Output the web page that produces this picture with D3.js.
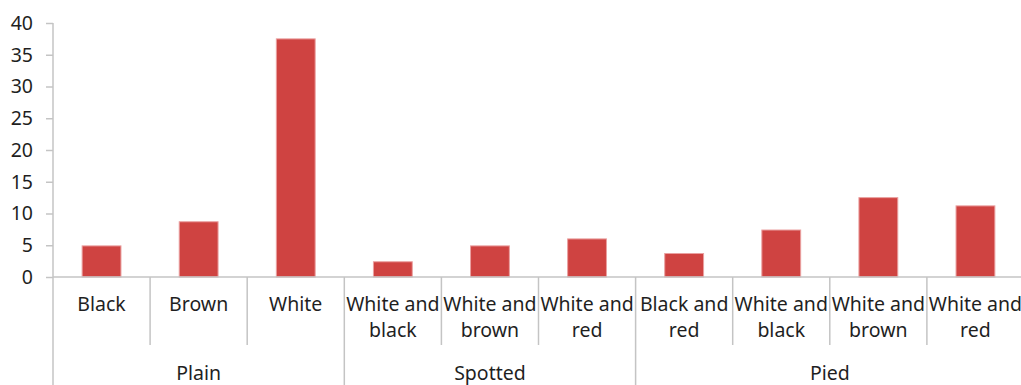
<!DOCTYPE html>
<html>
<head>
<meta charset="utf-8">
<script src="https://cdn.jsdelivr.net/npm/d3@7"></script>
<style>
  body { margin: 0; background: #fff; }
  svg { display: block; }
  text { font-family: "Noto Sans", "Open Sans", sans-serif; fill: #1f1f1f; }
</style>
</head>
<body>
<div id="chart"></div>
<script>
// data
var groups = ['Plain', 'Spotted', 'Pied'];
var categories = [
    ['Black'], ['Brown'], ['White'],
    ['White and', 'black'], ['White and', 'brown'], ['White and', 'red'],
    ['Black and', 'red'], ['White and', 'black'], ['White and', 'brown'], ['White and', 'red']
];
var categoryGroup = [0, 0, 0, 1, 1, 1, 2, 2, 2, 2];
var values = [4.9, 8.7, 37.5, 2.4, 4.9, 6.0, 3.7, 7.4, 12.5, 11.2];
var yTicks = [0, 5, 10, 15, 20, 25, 30, 35, 40];

(function(){
    var width = 1021, height = 385;
    var plotLeft = 53, plotRight = 1024, plotTop = 23, plotBottom = 277;
    var fontSize = '19.5px';

    var svg = d3.select('#chart')
        .append('svg')
        .attr('width', width)
        .attr('height', height);

    var x = d3.scaleBand()
        .domain(d3.range(values.length))
        .range([plotLeft, plotRight])
        .paddingInner(0.6)
        .paddingOuter(0.3);

    var y = d3.scaleLinear()
        .domain([0, 40])
        .range([plotBottom, plotTop]);

    var step = x.step();
    var edge = function(i){ return plotLeft + i * step; };

    // y axis
    var yAxis = svg.append('g')
        .attr('transform', 'translate(' + plotLeft + ',0)')
        .call(d3.axisLeft(y).tickValues(yTicks).tickSize(7).tickPadding(13));
    yAxis.select('.domain').attr('stroke', '#c4c4c4').attr('stroke-width', 1.5)
        .attr('d', 'M0,' + plotTop + 'V' + plotBottom);
    yAxis.selectAll('.tick line').attr('stroke', '#c4c4c4').attr('stroke-width', 1.5);
    yAxis.selectAll('.tick text')
        .style('font-size', fontSize)
        .style('font-family', '"Noto Sans", sans-serif')
        .attr('fill', '#1f1f1f');

    // bars
    svg.selectAll('rect.bar')
        .data(values)
        .enter()
        .append('rect')
        .attr('class', 'bar')
        .attr('x', function(d, i){ return x(i); })
        .attr('y', function(d){ return y(d); })
        .attr('width', x.bandwidth())
        .attr('height', function(d){ return y(0) - y(d); })
        .attr('fill', '#cf4341')
        .attr('stroke', '#eaa0a0')
        .attr('stroke-width', 1);

    // x axis baseline
    svg.append('line')
        .attr('x1', plotLeft).attr('x2', width)
        .attr('y1', y(0)).attr('y2', y(0))
        .attr('stroke', '#c4c4c4').attr('stroke-width', 1.5);

    // separators between categories
    svg.selectAll('line.sep')
        .data(d3.range(values.length + 1))
        .enter()
        .append('line')
        .attr('class', 'sep')
        .attr('x1', function(i){ return edge(i); })
        .attr('x2', function(i){ return edge(i); })
        .attr('y1', y(0))
        .attr('y2', function(i){
            var major = i === 0 || i === values.length || categoryGroup[i] !== categoryGroup[i - 1];
            return major ? height : 345;
        })
        .attr('stroke', '#c4c4c4').attr('stroke-width', 1.5);

    // category labels
    var labels = svg.selectAll('text.cat')
        .data(categories)
        .enter()
        .append('text')
        .attr('class', 'cat')
        .attr('text-anchor', 'middle')
        .style('font-size', fontSize);
    labels.selectAll('tspan')
        .data(function(d, i){ return d.map(function(t){ return {t: t, i: i}; }); })
        .enter()
        .append('tspan')
        .attr('x', function(d){ return x(d.i) + x.bandwidth() / 2; })
        .attr('y', function(d, j){ return 311 + j * 26; })
        .text(function(d){ return d.t; });

    // group labels
    svg.selectAll('text.grp')
        .data(groups)
        .enter()
        .append('text')
        .attr('class', 'grp')
        .attr('text-anchor', 'middle')
        .style('font-size', fontSize)
        .attr('x', function(g, gi){
            var idx = categoryGroup.map(function(c, i){ return c === gi ? i : -1; })
                .filter(function(i){ return i >= 0; });
            return (edge(idx[0]) + edge(idx[idx.length - 1] + 1)) / 2;
        })
        .attr('y', 380)
        .text(function(g){ return g; });
})();
</script>
</body>
</html>
